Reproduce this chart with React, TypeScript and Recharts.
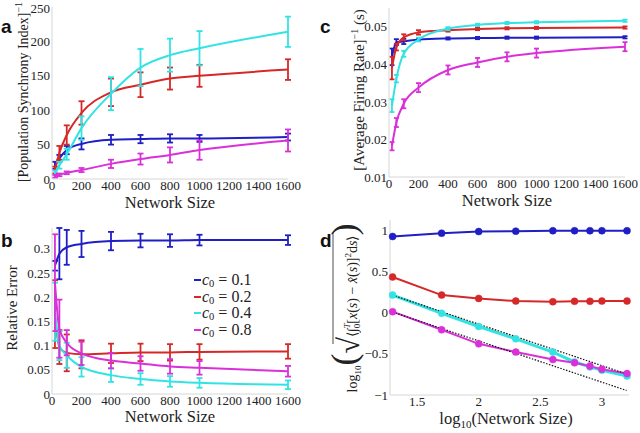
import { ErrorBar, Legend, Line, LineChart, XAxis, YAxis } from "recharts";

// x positions (network sizes) and their log10 values for panel d
const sizes = [20, 50, 100, 200, 400, 600, 800, 1000, 1600];
const logSizes = [1.301, 1.699, 2, 2.301, 2.602, 2.778, 2.903, 3, 3.204];

const c0Values = ["0.1", "0.2", "0.4", "0.8"];
const colors = ["#1f1fc4", "#d62828", "#33e3e3", "#d930d9"];

// a: [Population Synchrony Index]^-1
const syncMean = [
  [20, 30, 42, 51, 57, 58, 59, 59, 61],
  [13, 38, 64, 96, 126, 137, 146, 150, 159],
  [9, 20, 36, 74, 124, 162, 180, 190, 214],
  [4, 6, 9, 13, 22, 29, 35, 42, 56],
];
const syncErr = [
  [5, 5, 6, 8, 7, 6, 6, 5, 5],
  [5, 10, 14, 17, 20, 18, 16, 16, 15],
  [3, 5, 8, 17, 24, 27, 24, 25, 22],
  [2, 2, 2, 3, 6, 8, 11, 14, 16],
];

// b: relative error
const relMean = [
  [0.265, 0.29, 0.303, 0.31, 0.316, 0.317, 0.317, 0.318, 0.318],
  [0.165, 0.097, 0.085, 0.082, 0.084, 0.086, 0.086, 0.087, 0.088],
  [0.17, 0.1, 0.08, 0.056, 0.039, 0.031, 0.026, 0.023, 0.019],
  [0.23, 0.135, 0.106, 0.084, 0.069, 0.063, 0.057, 0.054, 0.047],
];
const relErr = [
  [0.01, 0.053, 0.036, 0.027, 0.019, 0.014, 0.013, 0.011, 0.01],
  [0.07, 0.035, 0.038, 0.029, 0.02, 0.018, 0.017, 0.016, 0.015],
  [0.06, 0.03, 0.026, 0.02, 0.014, 0.012, 0.011, 0.01, 0.009],
  [0.1, 0.06, 0.026, 0.024, 0.016, 0.015, 0.015, 0.014, 0.011],
];

// c: [Average Firing Rate]^-1 (s)
const rateMean = [
  [0.042, 0.0459, 0.0461, 0.0466, 0.0469, 0.047, 0.0471, 0.0471, 0.0472],
  [0.039, 0.0446, 0.0472, 0.0485, 0.0491, 0.0494, 0.0496, 0.0497, 0.0498],
  [0.029, 0.0362, 0.0428, 0.0466, 0.0495, 0.0505, 0.051, 0.0512, 0.0516],
  [0.0182, 0.0245, 0.0295, 0.0338, 0.0385, 0.0405, 0.042, 0.043, 0.0447],
];
const rateErr = [
  [0.0022, 0.0008, 0.0007, 0.0004, 0.0003, 0.0003, 0.0003, 0.0003, 0.0003],
  [0.003, 0.0009, 0.0008, 0.0006, 0.0004, 0.0003, 0.0003, 0.0003, 0.0003],
  [0.0017, 0.001, 0.0008, 0.0005, 0.0004, 0.0003, 0.0003, 0.0003, 0.0003],
  [0.0011, 0.0012, 0.0012, 0.0012, 0.0012, 0.0012, 0.0012, 0.0012, 0.0012],
];

// d: log10 of the rms deviation
const devLog = [
  [0.92, 0.96, 0.98, 0.985, 0.99, 0.99, 0.99, 0.99, 0.99],
  [0.43, 0.21, 0.17, 0.138, 0.13, 0.135, 0.135, 0.138, 0.138],
  [0.21, -0.01, -0.17, -0.32, -0.48, -0.6, -0.66, -0.7, -0.77],
  [0.01, -0.21, -0.38, -0.48, -0.57, -0.61, -0.65, -0.687, -0.74],
];
// slope -1/2 guide lines
const guideX = [1.3, 3.2];
const guideUpper = [0.21, -0.745];
const guideLower = [0.005, -0.945];

const sizeTicks = [0, 200, 400, 600, 800, 1000, 1200, 1400, 1600];
const syncTicks = [0, 50, 100, 150, 200, 250];
const relTicks = [0, 0.05, 0.1, 0.15, 0.2, 0.25, 0.3];
const rateTicks = [0.01, 0.02, 0.03, 0.04, 0.05];
const logTicks = [1.5, 2, 2.5, 3];
const devTicks = [-1, -0.5, 0, 0.5, 1];

const serif = "Liberation Serif, serif";

function buildRows(xs: number[], means: number[][], errs?: number[][]) {
  return xs.map((x, i) => {
    const row: Record<string, number> = { x };
    means.forEach((m, k) => {
      row["s" + k] = m[i];
      if (errs) row["e" + k] = errs[k][i];
    });
    return row;
  });
}

const syncRows = buildRows(sizes, syncMean, syncErr);
const relRows = buildRows(sizes, relMean, relErr);
const rateRows = buildRows(sizes, rateMean, rateErr);
const devRows = buildRows(logSizes, devLog);
const upperRows = guideX.map((x, i) => ({ x, g: guideUpper[i] }));
const lowerRows = guideX.map((x, i) => ({ x, g: guideLower[i] }));

const axisProps = {
  axisLine: { stroke: "#d6d6d6" },
  tickLine: false,
  tickSize: 0,
  tickMargin: 2,
  tick: { fontFamily: serif, fontSize: 13, fill: "#222" },
};

const minus = (v: number) => String(v).replace("-", "\u2212");

function errorSeries(width: number, cap: number) {
  return colors.map((c, k) => (
    <Line
      key={k}
      type="monotone"
      dataKey={"s" + k}
      name={c0Values[k]}
      stroke={c}
      strokeWidth={width}
      dot={false}
      isAnimationActive={false}
    >
      <ErrorBar dataKey={"e" + k} direction="y" width={cap} stroke={c} strokeWidth={1.8} isAnimationActive={false} />
    </Line>
  ));
}

function renderLegend() {
  return (
    <div style={{ fontFamily: serif, fontSize: 16, lineHeight: "16.5px", color: "#222" }}>
      {c0Values.map((v, i) => (
        <div key={v} style={{ display: "flex", alignItems: "center", whiteSpace: "nowrap", height: 16.5 }}>
          <span style={{ display: "inline-block", width: 7, height: 2, background: colors[i], marginRight: 1 }} />
          <i>c</i>
          <span style={{ fontSize: 10.5, position: "relative", top: 4 }}>0</span>
          <span>&nbsp;=&nbsp;{v}</span>
        </div>
      ))}
    </div>
  );
}

function Overlay() {
  const letter = { fontFamily: "Liberation Sans, Arial, sans-serif", fontSize: 19, fontWeight: 700, fill: "#111" };
  const xl = { fontFamily: serif, fontSize: 16.5, fill: "#222", textAnchor: "middle" as const };
  const yl = { fontFamily: serif, fontSize: 15, fill: "#222", textAnchor: "middle" as const };
  return (
    <svg width={640} height={433} style={{ position: "absolute", left: 0, top: 0, pointerEvents: "none" }}>
      <text x={1} y={33} {...letter}>a</text>
      <text x={320} y={33} {...letter}>c</text>
      <text x={1} y={247} {...letter}>b</text>
      <text x={320} y={247} {...letter}>d</text>

      <text x={170} y={208} {...xl}>Network Size</text>
      <text x={507} y={206} {...xl}>Network Size</text>
      <text x={170} y={422} {...xl}>Network Size</text>
      <text x={506} y={424} {...xl}>
        log<tspan fontSize={11} dy={4}>10</tspan>
        <tspan dy={-4}>(Network Size)</tspan>
      </text>

      <text transform="translate(28,92) rotate(-90)" {...yl} fontSize={14}>
        [Population Synchrony Index]<tspan fontSize={10} dy={-6}>{"\u22121"}</tspan>
      </text>
      <text transform="translate(364,90) rotate(-90)" {...yl}>
        [Average Firing Rate]<tspan fontSize={10} dy={-6}>{"\u22121"}</tspan>
        <tspan dy={6}> (s)</tspan>
      </text>
      <text transform="translate(17,308) rotate(-90)" {...yl}>Relative Error</text>
      <g transform="translate(357,308) rotate(-90)">
        <text textAnchor="middle" fontFamily={serif} fontSize={14} fill="#222">
          log<tspan fontSize={9} dy={4}>10</tspan>
          <tspan fontSize={36} dy={-5}>(</tspan>
          <tspan fontSize={30} dy={3}>{"\u221A"}</tspan>
          <tspan dy={-2}>{"\u27E8\u222B"}</tspan>
          <tspan fontSize={9} fontStyle="italic" dy={-7}>T</tspan>
          <tspan fontSize={9} dx={-5} dy={10}>0</tspan>
          <tspan dy={-3}>[</tspan>
          <tspan fontStyle="italic">x</tspan>(<tspan fontStyle="italic">s</tspan>){" \u2212 "}
          <tspan fontStyle="italic">{"x\u0302"}</tspan>(<tspan fontStyle="italic">s</tspan>)]
          <tspan fontSize={9} dy={-6}>2</tspan>
          <tspan dy={6}>d</tspan>
          <tspan fontStyle="italic">s</tspan>
          {"\u27E9"}
          <tspan fontSize={36} dy={-1}>)</tspan>
        </text>
        <line x1={-36} x2={76} y1={-24} y2={-24} stroke="#222" strokeWidth={0.8} />
      </g>
    </svg>
  );
}

export default function App() {
  return (
    <div style={{ position: "absolute", left: 0, top: 0, width: 640, height: 433, background: "#fff", overflow: "hidden" }}>
      <div style={{ position: "absolute", left: 0, top: 0 }}>
        <LineChart width={320} height={215} data={syncRows} margin={{ top: 7, right: 32, bottom: 0, left: 0 }}>
          <XAxis dataKey="x" type="number" domain={[0, 1600]} ticks={sizeTicks} interval={0} height={36} {...axisProps} />
          <YAxis type="number" domain={[0, 250]} ticks={syncTicks} width={52} {...axisProps} />
          {errorSeries(2, 3)}
        </LineChart>
      </div>

      <div style={{ position: "absolute", left: 0, top: 215 }}>
        <LineChart width={320} height={218} data={relRows} margin={{ top: 13, right: 32, bottom: 0, left: 0 }}>
          <XAxis dataKey="x" type="number" domain={[0, 1600]} ticks={sizeTicks} interval={0} height={39} {...axisProps} />
          <YAxis type="number" domain={[0, 0.34]} ticks={relTicks} width={52} {...axisProps} />
          {errorSeries(2, 3)}
          <Legend
            layout="vertical"
            align="center"
            verticalAlign="middle"
            content={renderLegend}
            wrapperStyle={{ left: 194, top: 57, width: 80 }}
          />
        </LineChart>
      </div>

      <div style={{ position: "absolute", left: 320, top: 0 }}>
        <LineChart width={320} height={215} data={rateRows} margin={{ top: 8, right: 15, bottom: 0, left: 0 }}>
          <XAxis dataKey="x" type="number" domain={[0, 1600]} ticks={sizeTicks} interval={0} height={38} {...axisProps} />
          <YAxis type="number" domain={[0.01, 0.055]} ticks={rateTicks} width={69} {...axisProps} />
          {errorSeries(2, 2.5)}
        </LineChart>
      </div>

      <div style={{ position: "absolute", left: 320, top: 215 }}>
        <LineChart width={320} height={218} data={devRows} margin={{ top: 5, right: 11, bottom: 0, left: 0 }}>
          <XAxis dataKey="x" type="number" domain={[1.28, 3.22]} ticks={logTicks} interval={0} height={38} {...axisProps} />
          <YAxis type="number" domain={[-1, 1.12]} ticks={devTicks} width={70} tickFormatter={minus} {...axisProps} />
          {colors.map((c, k) => (
            <Line
              key={k}
              type="linear"
              dataKey={"s" + k}
              stroke={c}
              strokeWidth={k === 2 ? 3 : 2}
              dot={{ r: 3.5, fill: c, stroke: c, strokeWidth: 0.5 }}
              isAnimationActive={false}
            />
          ))}
          <Line data={upperRows} dataKey="g" type="linear" stroke="#111" strokeWidth={1.2} strokeDasharray="1.5 1.5" dot={false} isAnimationActive={false} />
          <Line data={lowerRows} dataKey="g" type="linear" stroke="#111" strokeWidth={1.2} strokeDasharray="1.5 1.5" dot={false} isAnimationActive={false} />
        </LineChart>
      </div>

      <Overlay />
    </div>
  );
}
